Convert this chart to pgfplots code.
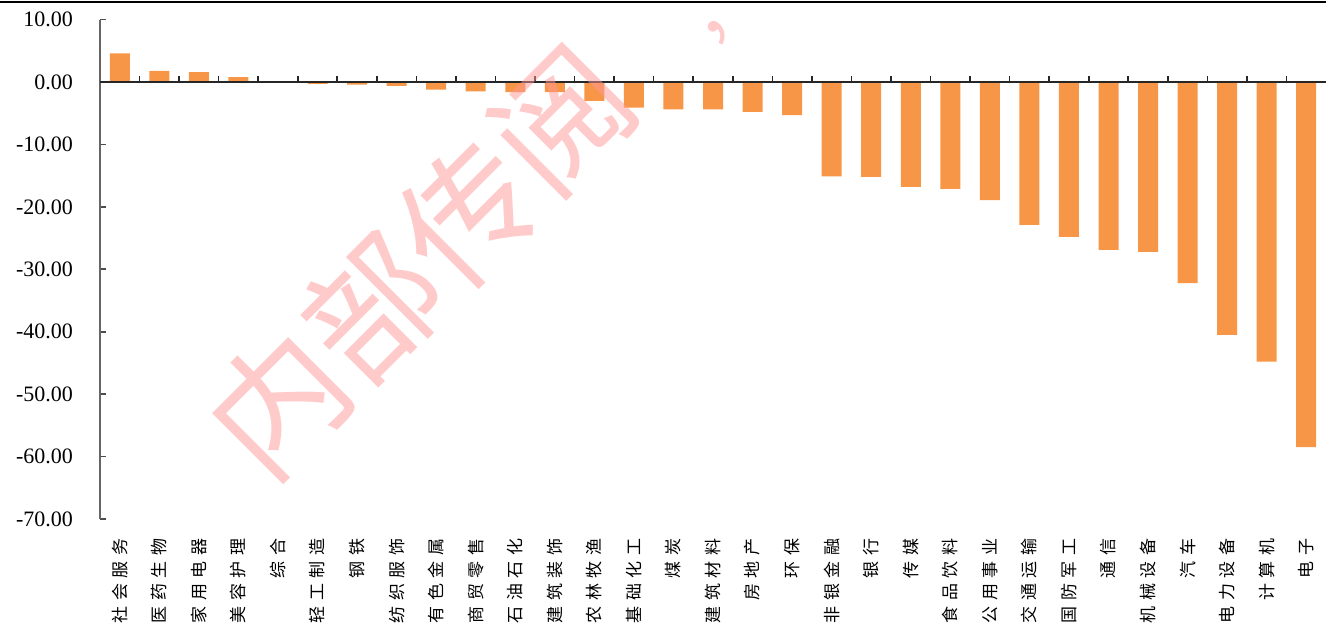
\documentclass[border=0pt]{standalone}
\usepackage{pgfplots}
\pgfplotsset{compat=1.18}
\usepackage{fontspec}
\setmainfont{Liberation Serif}
\newfontfamily\cjk[LetterSpace=35]{Noto Sans CJK SC}
\newfontfamily\cjkwm{Noto Sans CJK SC}
\definecolor{barorange}{RGB}{247,150,70}
\definecolor{wmpink}{RGB}{255,150,150}

\pgfplotstableread{
idx val
0 4.6
1 1.8
2 1.6
3 0.8
4 0.05
5 -0.3
6 -0.4
7 -0.6
8 -1.2
9 -1.5
10 -1.6
11 -1.6
12 -3.0
13 -4.1
14 -4.4
15 -4.4
16 -4.8
17 -5.3
18 -15.1
19 -15.2
20 -16.8
21 -17.1
22 -18.9
23 -22.9
24 -24.8
25 -26.9
26 -27.2
27 -32.2
28 -40.5
29 -44.8
30 -58.5
}\industry

\begin{document}
\begin{tikzpicture}
\pgfplotsset{
  common/.style={
    at={(0,0)}, anchor=south west,
    scale only axis, width=613pt, height=249.7pt,
    xmin=-0.5, xmax=30.5, ymin=-70, ymax=10,
  }
}
\begin{axis}[
  common,
  axis y line*=left, axis x line*=bottom,
  x axis line style={draw=none},
  y axis line style={draw=black!60, line width=1pt},
  ytick={-70,-60,...,10},
  yticklabel style={
    /pgf/number format/.cd, fixed, fixed zerofill, precision=2, assume math mode=true,
    /tikz/.cd, font=\fontsize{11}{13}\selectfont, xshift=-10pt},
  ytick style={draw=black!70, line width=0.8pt},
  tick align=inside, major tick length=3pt,
  xtick={0,...,30},
  xticklabels={社会服务,医药生物,家用电器,美容护理,综合,轻工制造,钢铁,纺织服饰,有色金属,商贸零售,石油石化,建筑装饰,农林牧渔,基础化工,煤炭,建筑材料,房地产,环保,非银金融,银行,传媒,食品饮料,公用事业,交通运输,国防军工,通信,机械设备,汽车,电力设备,计算机,电子},
  xticklabel style={yshift=-3pt, rotate=90, anchor=east, font=\cjk\fontsize{8.5}{10}\selectfont},
  xtick style={draw=none},
  ybar, bar width=10pt, bar shift=0pt,
]
\addplot[fill=barorange, draw=none] table[x=idx, y=val] {\industry};
\end{axis}
\begin{axis}[
  common,
  axis x line=middle, axis y line=none,
  x axis line style={-, line width=1pt, draw=black!85},
  xtick={0.5,1.5,...,29.5}, xticklabels={},
  ytick=\empty,
  xtick style={draw=black!85, line width=0.8pt},
  tick align=inside, major tick length=3pt,
]
\end{axis}
% watermark
\node[rotate=45, opacity=0.5, text=wmpink, inner sep=0pt,
      font=\cjkwm\fontsize{67}{67}\selectfont] at (160pt,129pt) {内部传阅};
\node[rotate=45, opacity=0.5, text=wmpink, inner sep=0pt,
      font=\cjkwm\fontsize{36}{36}\selectfont] at (316pt,250pt) {，};
\draw[line width=1.2pt] (-50pt,258.6pt) -- (613pt,258.6pt);
\pgfresetboundingbox
\useasboundingbox (-50pt,-55.5pt) rectangle (613pt,259.5pt);
\end{tikzpicture}
\end{document}
